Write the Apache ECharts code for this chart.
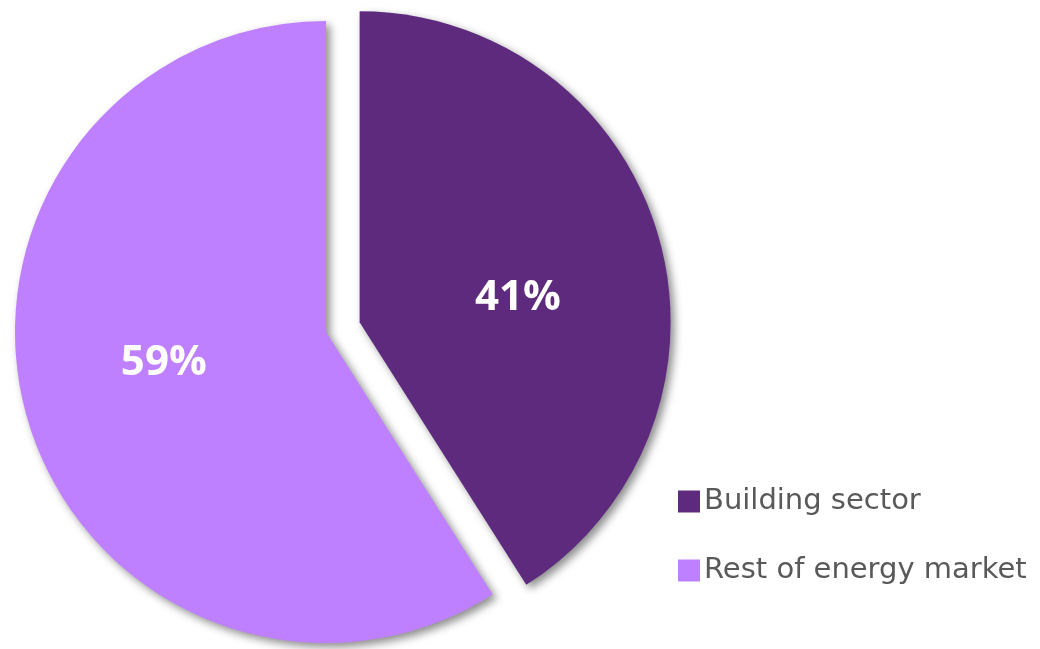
<!DOCTYPE html>
<html>
<head>
<meta charset="utf-8">
<script src="https://cdn.jsdelivr.net/npm/echarts@6/dist/echarts.min.js"></script>
<style>html,body{margin:0;padding:0;background:#fff}#c{width:1040px;height:649px}</style>
</head>
<body>
<div id="c"></div>
<script>
const categories = ["Building sector", "Rest of energy market"];
const values = [41, 59];
const colors = ["#5E2A7E", "#BF80FF"];

const chart = echarts.init(document.getElementById('c'), null, {renderer: 'canvas'});
chart.setOption({
  animation: false,
  legend: {
    orient: 'vertical',
    left: 673,
    top: 482,
    itemWidth: 22,
    itemHeight: 22,
    itemGap: 40,
    icon: 'rect',
    selectedMode: false,
    textStyle: {color: '#595959', fontSize: 29, fontFamily: 'DejaVu Sans', padding: [0,0,0,-1]},
    data: categories
  },
  series: [{
    type: 'pie',
    center: [326, 332],
    radius: 311,
    startAngle: 90,
    clockwise: true,
    selectedMode: 'single',
    selectedOffset: 35,
    emphasis: {disabled: true},
    itemStyle: {shadowColor: 'rgba(0,0,0,0.45)', shadowBlur: 8, shadowOffsetX: 4, shadowOffsetY: 4},
    label: {
      position: 'inside',
      formatter: '{d}%',
      color: '#fff',
      fontSize: 42,
      fontWeight: 'bold',
      fontFamily: 'Open Sans'
    },
    labelLine: {show: false},
    labelLayout: function (p) {
      return p.dataIndex === 0 ? {dx: 6, dy: 20} : {dx: -10, dy: -13};
    },
    data: categories.map((n, i) => ({name: n, value: values[i], selected: i === 0, itemStyle: {color: colors[i]}}))
  }]
});
</script>
</body>
</html>
